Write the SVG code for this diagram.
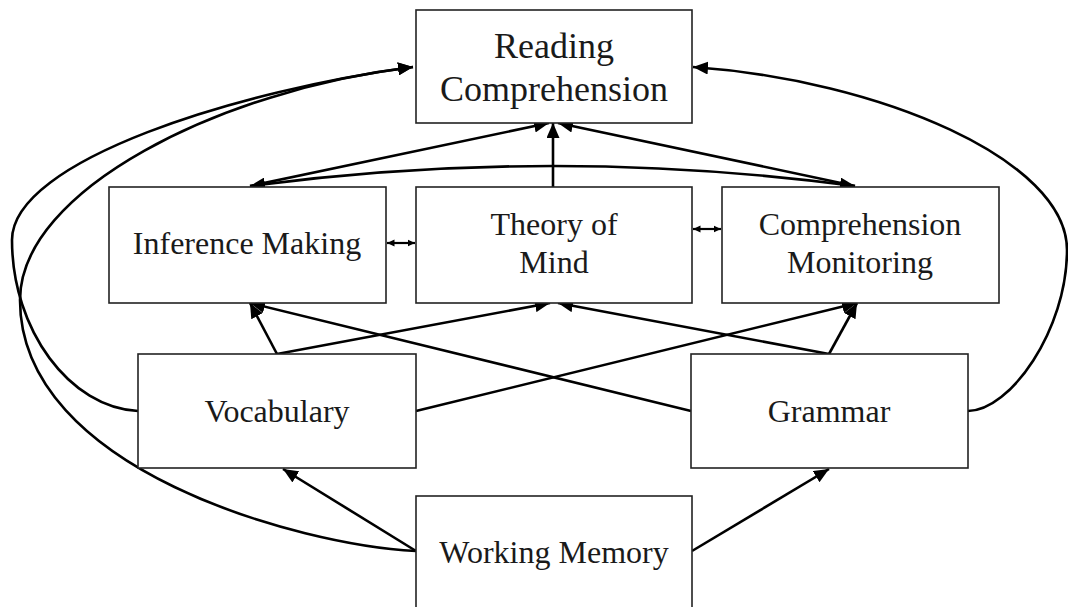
<svg xmlns="http://www.w3.org/2000/svg" width="1068" height="607" viewBox="0 0 1068 607">
<style>
.box{fill:#fff;stroke:#222;stroke-width:1.6}
text{font-family:'Liberation Serif','Times New Roman',Tinos,'DejaVu Serif',serif;fill:#1a1a1a;text-anchor:middle}
.big{font-size:36px}
.med{font-size:32px}
.c{fill:none;stroke:#000;stroke-width:2.6}
.s{fill:none;stroke:#000;stroke-width:2.2}
</style>
<defs>
<marker id="ah" markerUnits="userSpaceOnUse" markerWidth="16" markerHeight="13" refX="15" refY="6.5" orient="auto-start-reverse" viewBox="0 0 16 13">
<path d="M0,0 L15,6.5 L0,13 z" fill="#000"/>
</marker>
<marker id="sm" markerUnits="userSpaceOnUse" markerWidth="8" markerHeight="8" refX="7.5" refY="4" orient="auto-start-reverse" viewBox="0 0 8 8">
<path d="M0,0.5 L7.5,4 L0,7.5 z" fill="#000"/>
</marker>
</defs>
<g id="connectors">
<path class="c" d="M250,186 L549,123" marker-end="url(#ah)"/>
<path class="c" d="M553,187 L553,123" marker-end="url(#ah)"/>
<path class="c" d="M855,186 L558,123" marker-end="url(#ah)"/>
<path class="c" d="M250,186 Q553,146 855,186" marker-start="url(#ah)" marker-end="url(#ah)"/>
<path class="s" d="M387,243 L415,243" marker-start="url(#sm)" marker-end="url(#sm)"/>
<path class="s" d="M693,229 L721,229" marker-start="url(#sm)" marker-end="url(#sm)"/>
<path class="c" d="M277,354 L250,303" marker-end="url(#ah)"/>
<path class="c" d="M277,354 L550,303" marker-end="url(#ah)"/>
<path class="c" d="M416,411 L857,303" marker-end="url(#ah)"/>
<path class="c" d="M691,411 L250,303" marker-end="url(#ah)"/>
<path class="c" d="M829,354 L558,303" marker-end="url(#ah)"/>
<path class="c" d="M829,354 L857,303" marker-end="url(#ah)"/>
<path class="c" d="M416,551 L283,469" marker-end="url(#ah)"/>
<path class="c" d="M692,551 L829,469" marker-end="url(#ah)"/>
<path class="c" d="M138,411 C70,408 12,330 12,240 C12,160 240,90 413,67" marker-end="url(#ah)"/>
<path class="c" d="M416,551 C300,545 20,470 20,300 C20,190 220,90 413,67" marker-end="url(#ah)"/>
<path class="c" d="M968,411 C1010,411 1067,330 1067,250 C1067,160 880,80 693,67" marker-end="url(#ah)"/>
</g>
<g id="reading-comprehension">
<rect class="box" x="416" y="10" width="276" height="113"/>
<text class="big" x="554" y="58">Reading</text>
<text class="big" x="554" y="101">Comprehension</text>
</g>
<g id="inference-making">
<rect class="box" x="109" y="187" width="277" height="116"/>
<text class="med" x="247" y="254">Inference Making</text>
</g>
<g id="theory-of-mind">
<rect class="box" x="416" y="187" width="276" height="116"/>
<text class="med" x="554" y="235">Theory of</text>
<text class="med" x="554" y="273">Mind</text>
</g>
<g id="comprehension-monitoring">
<rect class="box" x="722" y="187" width="277" height="116"/>
<text class="med" x="860" y="235">Comprehension</text>
<text class="med" x="860" y="273">Monitoring</text>
</g>
<g id="vocabulary">
<rect class="box" x="138" y="354" width="278" height="114"/>
<text class="med" x="277" y="422">Vocabulary</text>
</g>
<g id="grammar">
<rect class="box" x="691" y="354" width="277" height="114"/>
<text class="med" x="829" y="422">Grammar</text>
</g>
<g id="working-memory">
<rect class="box" x="416" y="496" width="276" height="120"/>
<text class="med" x="554" y="563">Working Memory</text>
</g>
</svg>
